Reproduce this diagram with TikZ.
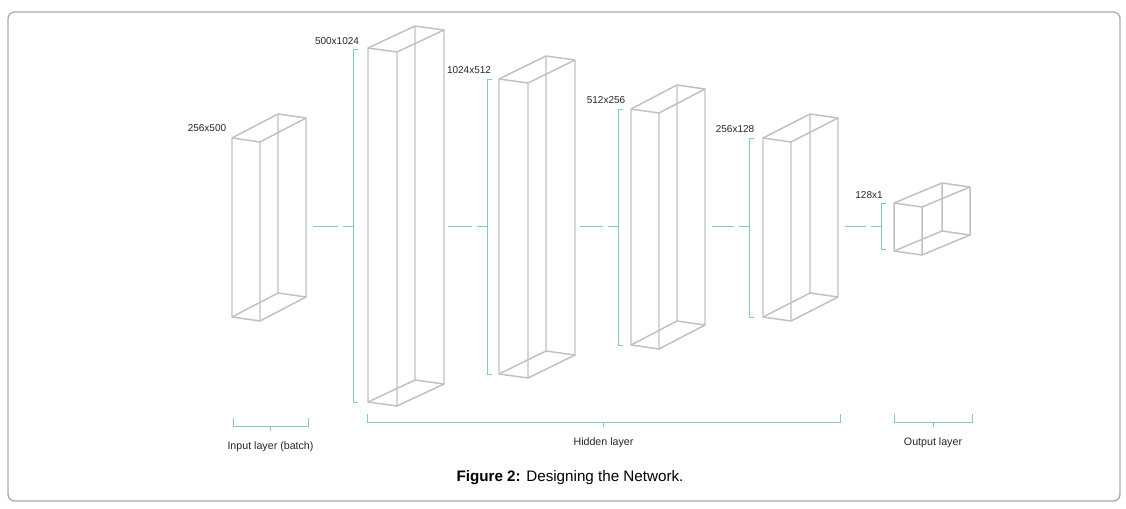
\documentclass[tikz,border=0pt]{standalone}
\usepackage{fontspec}
\setmainfont{Liberation Sans}
\usetikzlibrary{calc,positioning}

\definecolor{prismgray}{RGB}{192,192,192}
\definecolor{braceteal}{RGB}{128,204,184}
\definecolor{framegray}{RGB}{170,170,170}

% one layer as an open box: name, x, y, width, height, depth x, depth y
\newcommand{\layerprism}[7]{%
  \draw[prism] (#2,#3) coordinate (#1-ftl) -- ++(#4,4) coordinate (#1-ftr)
    -- ++(0,#5) coordinate (#1-fbr) -- ++(-#4,-4) coordinate (#1-fbl) -- cycle;
  \draw[prism] ([shift={(#6,#7)}]#1-ftl) coordinate (#1-btl)
    -- ([shift={(#6,#7)}]#1-ftr) coordinate (#1-btr)
    -- ([shift={(#6,#7)}]#1-fbr) coordinate (#1-bbr)
    -- ([shift={(#6,#7)}]#1-fbl) coordinate (#1-bbl) -- cycle;
  \draw[prism] (#1-ftl) -- (#1-btl) (#1-ftr) -- (#1-btr)
    (#1-fbl) -- (#1-bbl) (#1-fbr) -- (#1-bbr);
}
% size bracket left of a layer: name, x, top, bottom
\newcommand{\sizebracket}[4]{%
  \draw[brace] ({#2+5},#3) -- (#2,#3) -- (#2,#4) -- ({#2+5},#4);
  \draw[brace] (#2,226) -- ({#2-10},226);
  \coordinate (#1-in) at ({#2-15},226);
}
% group brace under the layers: name, x1, x2, y
\newcommand{\groupbrace}[4]{%
  \draw[brace] (#2,{#4-8}) -- (#2,#4) -- (#3,#4) -- (#3,{#4-8});
  \draw[brace] ({(#2+#3)/2},#4) -- ({(#2+#3)/2},{#4+5}) coordinate (#1-tip);
}

\begin{document}
\begin{tikzpicture}[
    x=0.75pt, y=-0.75pt,
    prism/.style={draw=prismgray, line width=1.1pt, line join=round},
    brace/.style={draw=braceteal, line width=0.6pt},
    link/.style={draw=braceteal, line width=0.6pt},
    dimlabel/.style={font=\fontsize{7.5}{8}\selectfont, text=black!85, inner sep=1pt},
    grouplabel/.style={font=\fontsize{8}{9}\selectfont, text=black!85, inner sep=1pt},
    caption/.style={font=\fontsize{11.4}{13}\selectfont, inner sep=1pt}
  ]
  \useasboundingbox (0,0) rectangle (1126,508);
  \draw[framegray, line width=1pt, rounded corners=5pt] (8,12) rectangle (1120,501);

  % layers
  \layerprism{p1}{232}{138}{28}{179}{46}{-24}
  \layerprism{p2}{368}{48}{29}{354}{47}{-22}
  \layerprism{p3}{499}{79}{29}{295}{47}{-23}
  \layerprism{p4}{631}{109}{28}{236}{46}{-24}
  \layerprism{p5}{763}{138}{28}{179}{47}{-24}
  \layerprism{p6}{894}{203}{28}{48}{48}{-20}

  % brackets
  \sizebracket{b2}{353}{49}{402}
  \sizebracket{b3}{487}{79}{374}
  \sizebracket{b4}{618}{109}{345}
  \sizebracket{b5}{749}{138}{317}
  \sizebracket{b6}{881}{203}{249}

  % connectors
  \draw[link] ([xshift=5pt]p1-bbr |- b2-in) -- (b2-in);
  \draw[link] ([xshift=3pt]p2-bbr |- b3-in) -- (b3-in);
  \draw[link] ([xshift=4pt]p3-bbr |- b4-in) -- (b4-in);
  \draw[link] ([xshift=5pt]p4-bbr |- b5-in) -- (b5-in);
  \draw[link] ([xshift=5pt]p5-bbr |- b6-in) -- (b6-in);

  % sizes
  \node[dimlabel] (d1) at (207,128) {256x500};
  \node[dimlabel] (d2) at (337,41) {500x1024};
  \node[dimlabel] (d3) at (469,70) {1024x512};
  \node[dimlabel] (d4) at (606,100) {512x256};
  \node[dimlabel] (d5) at (735,129) {256x128};
  \node[dimlabel] (d6) at (869,195) {128x1};

  % groups
  \groupbrace{g1}{233}{308}{426}
  \groupbrace{g2}{367}{840}{422}
  \groupbrace{g3}{894}{972}{422}
  \node[grouplabel, below=7pt of g1-tip] (input) {Input layer (batch)};
  \node[grouplabel, below=7pt of g2-tip] (hidden) {Hidden layer};
  \node[grouplabel, below=7pt of g3-tip] (output) {Output layer};

  \node[caption] (cap) at (570,478) {\textbf{Figure 2:} Designing the Network.};
\end{tikzpicture}
\end{document}
